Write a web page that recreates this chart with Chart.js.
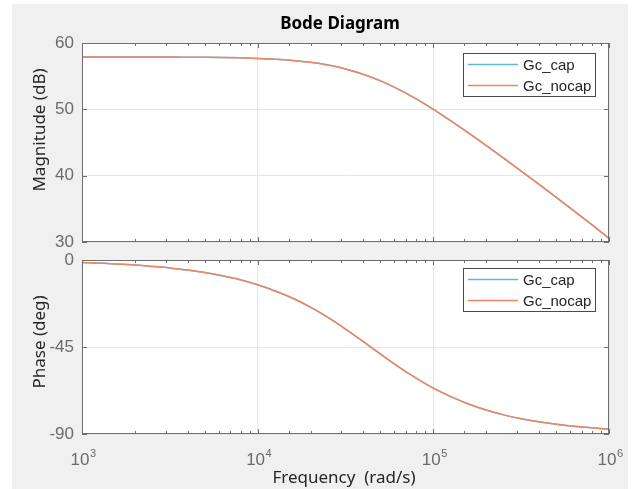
<!DOCTYPE html>
<html>
<head>
<meta charset="utf-8">
<script src="https://cdn.jsdelivr.net/npm/chart.js@4.4.1/dist/chart.umd.min.js"></script>
<style>
  html, body { margin: 0; padding: 0; background: #fff; width: 635px; height: 489px; overflow: hidden; }
  #fig   { position: absolute; left: 12px; top: 4px; width: 616px; height: 485px; background: #f0f0f0; }
  canvas { position: absolute; left: 0; top: 0; }
  .txt   { position: absolute; white-space: nowrap; font-family: "Noto Sans", sans-serif; font-size: 17px; color: #262626; }
  #title { left: 340px; top: 22px; transform: translate(-50%, -50%); font-weight: bold; color: #000; }
  .ylab  { transform: translate(-50%, -50%) rotate(-90deg); }
  #xlab  { left: 344px; top: 476px; transform: translate(-50%, -50%); }
</style>
</head>
<body>
<div id="fig"></div>
<canvas id="magChart" width="635" height="489"></canvas>
<canvas id="phaseChart" width="635" height="489"></canvas>
<div class="txt" id="title">Bode Diagram</div>
<div class="txt ylab" style="left:38px; top:130px;">Magnitude (dB)</div>
<div class="txt ylab" style="left:38px; top:342px;">Phase (deg)</div>
<div class="txt" id="xlab">Frequency&nbsp;&nbsp;(rad/s)</div>
<script>
'use strict';

// ── Données (rad/s, dB, deg) ─────────────────────────────────────
var freqs = [1000, 1259, 1585, 1995, 2512, 3162, 3981, 5012, 6310, 7943,
             10000, 12589, 15849, 19953, 25119, 31623, 39811, 50119, 63096, 79433,
             100000, 125893, 158489, 199526, 251189, 316228, 398107, 501187, 630957, 794328,
             1000000];

var magCap = [57.90, 57.90, 57.89, 57.89, 57.89, 57.88, 57.86, 57.84, 57.81, 57.76,
              57.68, 57.56, 57.37, 57.09, 56.68, 56.09, 55.30, 54.29, 53.05, 51.61,
              50.00, 48.27, 46.45, 44.56, 42.64, 40.69, 38.72, 36.72, 34.70, 32.65,
              30.55];
var magNocap = [57.90, 57.90, 57.89, 57.89, 57.89, 57.88, 57.86, 57.84, 57.81, 57.76,
                57.68, 57.56, 57.37, 57.09, 56.68, 56.09, 55.30, 54.29, 53.05, 51.61,
                50.00, 48.27, 46.45, 44.56, 42.64, 40.69, 38.72, 36.72, 34.70, 32.65,
                30.55];

var phaseCap = [-1.3, -1.6, -2.1, -2.6, -3.3, -4.1, -5.2, -6.5, -8.2, -10.2,
                -12.8, -16.0, -19.8, -24.4, -29.7, -35.7, -42.1, -48.7, -55.1, -61.0,
                -66.3, -70.7, -74.5, -77.6, -80.1, -82.1, -83.7, -85.0, -86.0, -86.8,
                -87.5];
var phaseNocap = [-1.3, -1.6, -2.1, -2.6, -3.3, -4.1, -5.2, -6.5, -8.2, -10.2,
                  -12.8, -16.0, -19.8, -24.4, -29.7, -35.7, -42.1, -48.7, -55.1, -61.0,
                  -66.3, -70.7, -74.5, -77.6, -80.1, -82.1, -83.7, -85.0, -86.0, -86.8,
                  -87.5];

var seriesNames = ['Gc_cap', 'Gc_nocap'];
var decades     = [3, 4, 5, 6];           // exposants des graduations 10^n
var magTicks    = [30, 40, 50, 60];
var phaseTicks  = [-90, -45, 0];

// ── Style ────────────────────────────────────────────────────────
var COL_CAP   = '#5fb6dd';
var COL_NOCAP = '#f08660';
var COL_BOX   = '#6e6e6e';
var COL_GRID  = '#e6e6e6';
var COL_TICK  = '#6b6b6b';
var FONT_TICK = '"Liberation Sans", Arial, sans-serif';

function isDecade(v) {
    var l = Math.log10(v);
    return Math.abs(l - Math.round(l)) < 1e-6;
}

function pts(ys) {
    return freqs.map(function (f, i) { return { x: f, y: ys[i] }; });
}

function makeDatasets(cap, nocap) {
    return [
        { label: seriesNames[0], data: pts(cap),   borderColor: COL_CAP,   order: 2 },
        { label: seriesNames[1], data: pts(nocap), borderColor: COL_NOCAP, order: 1 }
    ].map(function (d) {
        d.borderWidth = 1.5;
        d.pointRadius = 0;
        d.cubicInterpolationMode = 'monotone';
        d.fill = false;
        return d;
    });
}

// ── Cadre, graduations intérieures, légende encadrée ─────────────
var axesBox = {
    id: 'axesBox',
    beforeDraw: function (chart) {
        var a = chart.chartArea, ctx = chart.ctx;
        ctx.save();
        ctx.fillStyle = '#fff';
        ctx.fillRect(a.left, a.top, a.right - a.left, a.bottom - a.top);
        ctx.restore();
    },
    afterDraw: function (chart, args, opts) {
        var a = chart.chartArea, ctx = chart.ctx;
        var xs = chart.scales.x, ys = chart.scales.y;
        ctx.save();
        ctx.strokeStyle = COL_BOX;
        ctx.lineWidth = 1;

        // graduations x (majeures + mineures) en haut et en bas
        xs.ticks.forEach(function (t) {
            var px = Math.round(xs.getPixelForValue(t.value)) + 0.5;
            var len = isDecade(t.value) ? 5 : 3;
            ctx.beginPath();
            ctx.moveTo(px, a.top);    ctx.lineTo(px, a.top + len);
            ctx.moveTo(px, a.bottom); ctx.lineTo(px, a.bottom - len);
            ctx.stroke();
        });
        // graduations y à gauche et à droite
        ys.ticks.forEach(function (t) {
            var py = Math.round(ys.getPixelForValue(t.value)) + 0.5;
            ctx.beginPath();
            ctx.moveTo(a.left, py);  ctx.lineTo(a.left + 5, py);
            ctx.moveTo(a.right, py); ctx.lineTo(a.right - 5, py);
            ctx.stroke();
        });
        ctx.strokeRect(Math.round(a.left) + 0.5, Math.round(a.top) + 0.5,
                       Math.round(a.right - a.left) - 1, Math.round(a.bottom - a.top) - 1);

        // légende
        var w = 133, h = 44;
        var lx = Math.round(a.right) - 13 - w, ly = Math.round(a.top) + opts.legendTop;
        ctx.fillStyle = '#fff';
        ctx.fillRect(lx, ly, w, h);
        ctx.strokeStyle = '#4a4a4a';
        ctx.strokeRect(lx + 0.5, ly + 0.5, w - 1, h - 1);
        ctx.font = '15px ' + FONT_TICK;
        ctx.textBaseline = 'middle';
        chart.data.datasets.forEach(function (d, i) {
            var yy = ly + 11.5 + i * 21;
            ctx.strokeStyle = d.borderColor;
            ctx.lineWidth = 1.5;
            ctx.beginPath();
            ctx.moveTo(lx + 5, yy); ctx.lineTo(lx + 55, yy);
            ctx.stroke();
            ctx.fillStyle = '#262626';
            ctx.fillText(d.label, lx + 60, yy + 1);
        });

        // libellés 10^n sous l'axe des fréquences
        if (opts.xLabels) {
            ctx.fillStyle = COL_TICK;
            ctx.textBaseline = 'alphabetic';
            decades.forEach(function (n) {
                var px = xs.getPixelForValue(Math.pow(10, n));
                ctx.font = '17px ' + FONT_TICK;
                var bw = ctx.measureText('10').width;
                ctx.font = '11px ' + FONT_TICK;
                var ew = ctx.measureText(String(n)).width;
                var x0 = px - (bw + ew) / 2 + 1;
                ctx.font = '17px ' + FONT_TICK;
                ctx.fillText('10', x0, a.bottom + 31);
                ctx.font = '11px ' + FONT_TICK;
                ctx.fillText(String(n), x0 + bw + 0.5, a.bottom + 23);
            });
        }
        ctx.restore();
    }
};

function makeOptions(top, bottom, ymin, ymax, yTicks, legendTop, xLabels) {
    return {
        responsive: false,
        animation: false,
        layout: { padding: { left: 12, right: 26, top: top, bottom: bottom } },
        plugins: {
            legend: { display: false },
            tooltip: { enabled: false },
            axesBox: { legendTop: legendTop, xLabels: xLabels }
        },
        scales: {
            x: {
                type: 'logarithmic',
                min: 1e3, max: 1e6,
                border: { display: false },
                grid: {
                    drawTicks: false,
                    color: function (c) { return c.tick && isDecade(c.tick.value) ? COL_GRID : 'rgba(0,0,0,0)'; }
                },
                ticks: { autoSkip: false, maxRotation: 0, callback: function () { return ''; } },
                afterFit: function (s) { s.height = 0; }
            },
            y: {
                min: ymin, max: ymax,
                border: { display: false },
                grid: { drawTicks: false, color: COL_GRID },
                afterBuildTicks: function (s) { s.ticks = yTicks.map(function (v) { return { value: v }; }); },
                ticks: { padding: 8, color: COL_TICK, font: { family: FONT_TICK, size: 17 } },
                afterFit: function (s) { s.width = 70; }
            }
        }
    };
}

// ── Amplitude ────────────────────────────────────────────────────
new Chart(document.getElementById('magChart'), {
    type: 'line',
    data: { datasets: makeDatasets(magCap, magNocap) },
    options: makeOptions(43, 489 - 242, 30, 60, magTicks, 10, false),
    plugins: [axesBox]
});

// ── Phase ────────────────────────────────────────────────────────
new Chart(document.getElementById('phaseChart'), {
    type: 'line',
    data: { datasets: makeDatasets(phaseCap, phaseNocap) },
    options: makeOptions(260, 489 - 434, -90, 0, phaseTicks, 8, true),
    plugins: [axesBox]
});
</script>
</body>
</html>
